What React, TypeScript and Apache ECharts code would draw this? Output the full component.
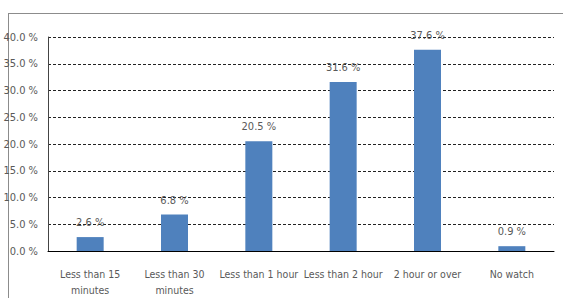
import React, { useEffect, useRef } from "react";
import * as echarts from "echarts";

const categories = [
  "Less than 15\nminutes",
  "Less than 30\nminutes",
  "Less than 1 hour",
  "Less than 2 hour",
  "2 hour or over",
  "No watch",
];
const values = [2.6, 6.8, 20.5, 31.6, 37.6, 0.9];

const FONT = "'DejaVu Sans Condensed', sans-serif";

export default function App() {
  const ref = useRef<HTMLDivElement>(null);
  useEffect(() => {
    const chart = echarts.init(ref.current!, undefined, { renderer: "svg" });
    chart.setOption({
      animation: false,
      backgroundColor: "#ffffff",
      grid: { left: 48, right: 9, top: 37, bottom: 46, containLabel: false },
      graphic: [
        { type: "line", shape: { x1: 8, y1: 13.5, x2: 563, y2: 13.5 }, style: { stroke: "#8c8c8c", lineWidth: 1 } },
        { type: "line", shape: { x1: 8.5, y1: 13, x2: 8.5, y2: 298 }, style: { stroke: "#8c8c8c", lineWidth: 1 } },
      ],
      xAxis: {
        type: "category",
        data: categories,
        axisLine: { show: true, lineStyle: { color: "#000", width: 1 } },
        axisTick: { show: false },
        axisLabel: { color: "#595959", fontFamily: FONT, fontSize: 10.5, margin: 15, lineHeight: 16, interval: 0 },
      },
      yAxis: {
        type: "value",
        min: 0,
        max: 40,
        interval: 5,
        axisLine: { show: true, lineStyle: { color: "#444", width: 1 } },
        axisTick: { show: false },
        axisLabel: {
          color: "#595959",
          fontFamily: FONT,
          fontSize: 11,
          margin: 10,
          formatter: (v: number) => v.toFixed(1) + " %",
        },
        splitLine: { show: true, lineStyle: { color: "#222", type: [3, 2], width: 1 } },
      },
      series: [
        {
          type: "bar",
          data: values,
          barWidth: 27,
          itemStyle: { color: "#4f81bd" },
          label: {
            show: true,
            position: "top",
            distance: 9,
            color: "#595959",
            fontFamily: FONT,
            fontSize: 11,
            formatter: (p: any) => p.value.toFixed(1) + " %",
          },
        },
      ],
    });
    return () => chart.dispose();
  }, []);
  return <div ref={ref} style={{ position: "fixed", left: 0, top: 0, width: 563, height: 298 }} />;
}
